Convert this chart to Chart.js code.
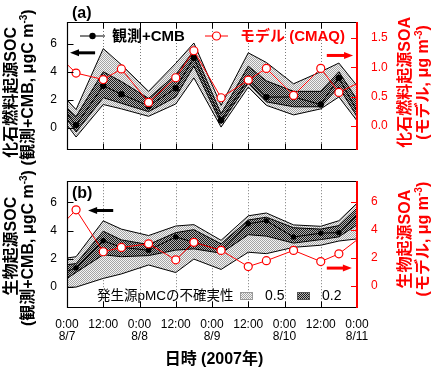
<!DOCTYPE html>
<html>
<head>
<meta charset="utf-8">
<script src="https://cdn.jsdelivr.net/npm/chart.js@4.4.1/dist/chart.umd.min.js"></script>
<style>
body { margin: 0; background: #fff; }
#wrap { position: relative; width: 445px; height: 370px; }
canvas { position: absolute; left: 0; }
#chartA { top: 0; }
#chartB { top: 160px; }
</style>
</head>
<body>
<div id="wrap">
<canvas id="chartA" width="445" height="170"></canvas>
<canvas id="chartB" width="445" height="210"></canvas>
</div>
<script>
// hours from 8/7 0:00; first and last entries are where the lines leave the frame
const hours = [0, 3, 12, 18, 27, 36, 42, 51, 60, 66, 75, 84, 90, 96];

// (a) fossil-fuel SOC, obs + CMB (left axis) and its pMC uncertainty bands
const fossilObs  = [1.0, 0.19, 3.0, 2.4, 1.56, 2.82, 5.0, 0.54, 3.5, 2.19, 2.2, 1.66, 3.56, 1.2];
const fossilHi05 = [2.0, 1.3, 5.65, 4.5, 2.6, 4.6, 6.05, 1.6, 5.35, 4.66, 3.14, 4.0, 4.62, 3.0];
const fossilHi02 = [1.4, 0.8, 4.0, 3.3, 2.1, 3.8, 5.5, 1.0, 4.4, 3.35, 2.6, 2.6, 4.0, 2.0];
const fossilLo02 = [0.6, -0.3, 2.15, 1.75, 1.15, 2.2, 4.4, 0.3, 3.2, 1.85, 1.5, 1.5, 2.9, 0.8];
const fossilLo05 = [0.2, -0.66, 1.66, 1.35, 0.82, 1.7, 3.56, 0.05, 2.9, 1.6, 0.92, 1.35, 2.2, 0.5];
// (a) fossil-fuel SOA, CMAQ model (right axis)
const fossilModel = [1.05, 0.90, 0.79, 0.97, 0.40, 0.82, 1.28, 0.48, 0.78, 0.98, 0.52, 0.98, 0.57, 0.72];

// (b) biogenic SOC, obs + CMB and bands
const bioObs  = [1.09, 1.33, 3.27, 2.8, 2.59, 3.54, 3.16, 2.6, 4.48, 4.69, 3.54, 3.81, 3.85, 5.1];
const bioHi05 = [2.04, 2.13, 4.69, 4.1, 3.64, 4.32, 4.42, 3.3, 5.05, 5.25, 4.4, 4.3, 4.7, 5.95];
const bioHi02 = [1.56, 1.64, 3.95, 3.33, 3.0, 3.85, 4.06, 3.05, 4.75, 4.95, 4.2, 4.1, 4.35, 5.6];
const bioLo02 = [0.57, 1.01, 2.27, 2.13, 2.21, 2.6, 2.69, 2.38, 3.7, 3.6, 3.1, 3.35, 3.55, 4.4];
const bioLo05 = [-0.06, -0.04, 0.58, 0.9, 1.54, 1.0, 1.96, 1.22, 2.45, 2.35, 2.8, 2.95, 3.25, 3.4];
// (b) biogenic SOA, CMAQ model
const bioModel = [4.75, 5.43, 2.42, 2.73, 2.99, 1.84, 3.1, 2.52, 1.36, 1.78, 2.52, 1.72, 2.27, 3.27];

const hourTicks = [0, 12, 24, 36, 48, 60, 72, 84, 96];
const hourTickLabels = [['0:00', '8/7'], '12:00', ['0:00', '8/8'], '12:00', ['0:00', '8/9'], '12:00', ['0:00', '8/10'], '12:00', ['0:00', '8/11']];
const fossilTicksL = [0, 2, 4, 6];
const fossilTicksR = [0, 0.5, 1.0, 1.5];
const bioTicksL = [0, 2, 4, 6];
const bioTicksR = [0, 2, 4, 6];

const FONT = '"Liberation Sans", "Noto Sans CJK JP", sans-serif';
const RED = '#ff0000';

function makePattern(ctx, c1, c2) {
    const p = document.createElement('canvas');
    p.width = 2; p.height = 2;
    const g = p.getContext('2d');
    g.fillStyle = c2; g.fillRect(0, 0, 2, 2);
    g.fillStyle = c1; g.fillRect(0, 0, 1, 1); g.fillRect(1, 1, 1, 1);
    return ctx.createPattern(p, 'repeat');
}

function pts(arr) {
    return hours.map((h, i) => ({ x: h, y: arr[i] }));
}

function innerRadius(r) {
    return hours.map((h, i) => (i === 0 || i === hours.length - 1) ? 0 : r);
}

function buildDatasets(p, light, dark) {
    const edge = { borderColor: '#000', borderWidth: 1, pointRadius: 0, tension: 0 };
    return [
        { ...edge, data: pts(p.hi05), fill: 1, backgroundColor: light, order: 10 },
        { ...edge, data: pts(p.lo05), fill: false, order: 9 },
        { ...edge, data: pts(p.hi02), fill: 3, backgroundColor: dark, order: 8 },
        { ...edge, data: pts(p.lo02), fill: false, order: 7 },
        {
            data: pts(p.obs), borderColor: '#000', borderWidth: 1, fill: false,
            pointRadius: innerRadius(p.dotR), pointBackgroundColor: '#000', pointBorderWidth: 0, order: 5
        },
        {
            data: pts(p.model), yAxisID: 'y1', borderColor: RED, borderWidth: 1, fill: false,
            pointRadius: innerRadius(4), pointBackgroundColor: '#fff', pointBorderColor: RED,
            pointBorderWidth: 1.2, order: 1
        }
    ];
}

// rotated (bottom-to-top) title with a superscript part
function sideTitle(ctx, parts, cx, cy, size, color) {
    const big = `bold ${size}px ${FONT}`;
    const small = `bold ${Math.round(size * 0.62)}px ${FONT}`;
    ctx.save();
    ctx.translate(cx, cy);
    ctx.rotate(-Math.PI / 2);
    ctx.fillStyle = color;
    ctx.textBaseline = 'middle';
    ctx.textAlign = 'left';
    let w = 0;
    parts.forEach(t => { ctx.font = t.sup ? small : big; w += ctx.measureText(t.t).width; });
    let x = -w / 2;
    parts.forEach(t => {
        ctx.font = t.sup ? small : big;
        ctx.fillText(t.t, x, t.sup ? -size * 0.32 : 0);
        x += ctx.measureText(t.t).width;
    });
    ctx.restore();
}

function arrow(ctx, x0, x1, y, color) {
    const dir = Math.sign(x1 - x0);
    ctx.save();
    ctx.strokeStyle = color; ctx.fillStyle = color; ctx.lineWidth = 3;
    ctx.beginPath(); ctx.moveTo(x0, y); ctx.lineTo(x1 - dir * 6, y); ctx.stroke();
    ctx.beginPath();
    ctx.moveTo(x1, y); ctx.lineTo(x1 - dir * 9, y - 3.5); ctx.lineTo(x1 - dir * 9, y + 3.5);
    ctx.closePath(); ctx.fill();
    ctx.restore();
}

function decorPlugin(p) {
    return {
        id: 'decor' + p.name,
        beforeDatasetsDraw(chart) {
            const ctx = chart.ctx, a = chart.chartArea, sx = chart.scales.x;
            ctx.save();
            ctx.strokeStyle = '#7a7a7a'; ctx.lineWidth = 1; ctx.setLineDash([1, 2]);
            hourTicks.slice(1, -1).forEach(h => {
                const px = Math.round(sx.getPixelForValue(h)) + 0.5;
                ctx.beginPath(); ctx.moveTo(px, a.top); ctx.lineTo(px, a.bottom); ctx.stroke();
            });
            ctx.restore();
        },
        afterDatasetsDraw(chart) {
            const ctx = chart.ctx, a = chart.chartArea;
            const sx = chart.scales.x, sy = chart.scales.y, sr = chart.scales.y1;
            const L = Math.round(a.left) + 0.5, R = Math.round(a.right);
            const T = Math.round(a.top) + 0.5, B = Math.round(a.bottom) + 0.5;
            ctx.save();

            // inward tick marks
            ctx.lineWidth = 1; ctx.strokeStyle = '#000';
            sy.ticks.forEach(t => {
                const py = Math.round(sy.getPixelForValue(t.value)) + 0.5;
                ctx.beginPath(); ctx.moveTo(L, py); ctx.lineTo(L + 6, py); ctx.stroke();
            });
            hourTicks.slice(1, -1).forEach(h => {
                const px = Math.round(sx.getPixelForValue(h)) + 0.5;
                ctx.beginPath(); ctx.moveTo(px, B); ctx.lineTo(px, B - 6); ctx.stroke();
                if (p.topTicks) {
                    ctx.beginPath(); ctx.moveTo(px, T); ctx.lineTo(px, T + 6); ctx.stroke();
                }
            });
            ctx.strokeStyle = RED;
            sr.ticks.forEach(t => {
                const py = Math.round(sr.getPixelForValue(t.value)) + 0.5;
                ctx.beginPath(); ctx.moveTo(R, py); ctx.lineTo(R - 6, py); ctx.stroke();
            });

            // frame
            ctx.strokeStyle = '#000'; ctx.lineWidth = 1.2;
            ctx.beginPath();
            ctx.moveTo(R, T); ctx.lineTo(L, T); ctx.lineTo(L, B); ctx.lineTo(R, B);
            ctx.stroke();
            ctx.strokeStyle = RED; ctx.lineWidth = 2;
            ctx.beginPath(); ctx.moveTo(R, T - 0.5); ctx.lineTo(R, B + 0.5); ctx.stroke();

            // direction arrows
            p.arrows.forEach(ar => {
                const scale = ar.axis === 'y1' ? sr : sy;
                arrow(ctx, sx.getPixelForValue(ar.from), sx.getPixelForValue(ar.to),
                    scale.getPixelForValue(ar.y), ar.color);
            });

            // panel tag
            ctx.fillStyle = '#000';
            ctx.font = `bold 16px ${FONT}`;
            ctx.textAlign = 'left'; ctx.textBaseline = 'middle';
            ctx.fillText(p.tag, a.left + 5, a.top + p.tagDy);

            if (p.legendTop) {
                const y = a.top + 14;
                ctx.lineWidth = 1; ctx.strokeStyle = '#000';
                ctx.beginPath(); ctx.moveTo(a.left + 13, y); ctx.lineTo(a.left + 38, y); ctx.stroke();
                ctx.fillStyle = '#000';
                ctx.beginPath(); ctx.arc(a.left + 25.5, y, 3.2, 0, Math.PI * 2); ctx.fill();
                ctx.font = `bold 15px ${FONT}`;
                ctx.fillText('観測+CMB', a.left + 45, y + 0.5);
                ctx.strokeStyle = RED;
                ctx.beginPath(); ctx.moveTo(a.left + 138, y); ctx.lineTo(a.left + 161, y); ctx.stroke();
                ctx.fillStyle = '#fff'; ctx.lineWidth = 1.2;
                ctx.beginPath(); ctx.arc(a.left + 149.5, y, 4, 0, Math.PI * 2); ctx.fill(); ctx.stroke();
                ctx.fillStyle = RED;
                ctx.fillText('モデル (CMAQ)', a.left + 173, y + 0.5);
            }

            if (p.legendBottom) {
                const y = a.bottom - 10.5;
                ctx.fillStyle = '#000';
                ctx.font = `13.5px ${FONT}`;
                ctx.fillText('発生源pMCの不確実性', a.left + 30, y);
                ctx.fillStyle = p.light; ctx.fillRect(a.left + 173, y - 4.5, 13, 8);
                ctx.strokeStyle = '#999'; ctx.lineWidth = 1;
                ctx.strokeRect(a.left + 173.5, y - 4, 12, 7);
                ctx.fillStyle = p.dark; ctx.fillRect(a.left + 230, y - 4.5, 13, 8);
                ctx.strokeStyle = '#555';
                ctx.strokeRect(a.left + 230.5, y - 4, 12, 7);
                ctx.fillStyle = '#000';
                ctx.font = `14px ${FONT}`;
                ctx.fillText('0.5', a.left + 198, y);
                ctx.fillText('0.2', a.left + 255, y);
            }

            // axis titles
            const mid = (a.top + a.bottom) / 2;
            sideTitle(ctx, p.leftTitle1, 12, mid + p.leftDy1, 16, '#000');
            sideTitle(ctx, p.leftTitle2, 29, mid + p.leftDy2, 16, '#000');
            sideTitle(ctx, p.rightTitle1, 406, mid + p.rightDy, 16, RED);
            sideTitle(ctx, p.rightTitle2, 424, mid + p.rightDy, 16, RED);

            if (p.xTitle) {
                ctx.fillStyle = '#000';
                ctx.font = `bold 16px ${FONT}`;
                ctx.textAlign = 'center';
                ctx.fillText(p.xTitle, (a.left + a.right) / 2 + 2, a.bottom + 53);
            }
            ctx.restore();
        }
    };
}

function makeChart(id, p) {
    const ctx = document.getElementById(id).getContext('2d');
    p.light = makePattern(ctx, '#a4a4a4', '#f4f4f4');
    p.dark = makePattern(ctx, '#1a1a1a', '#b4b4b4');
    const tickFont = { family: FONT, size: 12 };
    return new Chart(ctx, {
        type: 'line',
        data: { datasets: buildDatasets(p, p.light, p.dark) },
        options: {
            responsive: false,
            animation: false,
            layout: { padding: { top: p.padTop, left: 0, right: 0, bottom: 0 }, autoPadding: false },
            plugins: { legend: { display: false }, tooltip: { enabled: false } },
            scales: {
                x: {
                    type: 'linear', min: 0, max: 96,
                    afterBuildTicks: s => { s.ticks = hourTicks.map(v => ({ value: v })); },
                    ticks: {
                        display: p.xLabels, autoSkip: false, maxRotation: 0, padding: 11.5,
                        color: '#000', font: { family: FONT, size: 12, lineHeight: 1.03 },
                        callback: (v, i) => hourTickLabels[i]
                    },
                    grid: { display: false, drawTicks: false },
                    border: { display: false },
                    afterFit: s => { s.height = p.xHeight; }
                },
                y: {
                    position: 'left', min: p.yMin, max: p.yMax,
                    afterBuildTicks: s => { s.ticks = p.ticksL.map(v => ({ value: v })); },
                    ticks: { padding: 10, color: '#000', font: tickFont },
                    grid: { display: false, drawTicks: false },
                    border: { display: false },
                    afterFit: s => { s.width = 67; }
                },
                y1: {
                    position: 'right', min: p.rMin, max: p.rMax,
                    afterBuildTicks: s => { s.ticks = p.ticksR.map(v => ({ value: v })); },
                    ticks: { padding: 14, color: RED, font: tickFont, callback: p.rFmt },
                    grid: { display: false, drawTicks: false },
                    border: { display: false },
                    afterFit: s => { s.width = 88; }
                }
            }
        },
        plugins: [decorPlugin(p)]
    });
}

const supM3 = [{ t: 'm' }, { t: '-3', sup: true }, { t: ')' }];

makeChart('chartA', {
    name: 'A', tag: '(a)', tagDy: -8, padTop: 22, xHeight: 5, xLabels: false, topTicks: true,
    hi05: fossilHi05, hi02: fossilHi02, obs: fossilObs, lo02: fossilLo02, lo05: fossilLo05, model: fossilModel,
    dotR: 3.2, yMin: -1.5, yMax: 7.55, rMin: -0.39, rMax: 1.77,
    ticksL: fossilTicksL, ticksR: fossilTicksR, rFmt: v => v.toFixed(1),
    arrows: [
        { from: 9.3, to: 1, y: 5.35, axis: 'y', color: '#000' },
        { from: 86, to: 94.7, y: 1.2, axis: 'y1', color: RED }
    ],
    legendTop: true,
    leftTitle1: [{ t: '化石燃料起源SOC' }], leftDy1: 7,
    leftTitle2: [{ t: '(観測+CMB, μgC ' }, ...supM3], leftDy2: 2,
    rightTitle1: [{ t: '化石燃料起源SOA' }],
    rightTitle2: [{ t: '(モデル, μg ' }, ...supM3], rightDy: -3
});

makeChart('chartB', {
    name: 'B', tag: '(b)', tagDy: 12, padTop: 5, xHeight: 63, xLabels: true, topTicks: false,
    hi05: bioHi05, hi02: bioHi02, obs: bioObs, lo02: bioLo02, lo05: bioLo05, model: bioModel,
    dotR: 2.7, yMin: -1.46, yMax: 7.52, rMin: -1.54, rMax: 7.48,
    ticksL: bioTicksL, ticksR: bioTicksR, rFmt: v => String(v),
    arrows: [
        { from: 15.3, to: 7, y: 5.43, axis: 'y', color: '#000' },
        { from: 86, to: 94.3, y: 1.25, axis: 'y1', color: RED }
    ],
    legendBottom: true, xTitle: '日時 (2007年)',
    leftTitle1: [{ t: '生物起源SOC' }], leftDy1: 2,
    leftTitle2: [{ t: '(観測+CMB, μgC ' }, ...supM3], leftDy2: 4,
    rightTitle1: [{ t: '生物起源SOA' }],
    rightTitle2: [{ t: '(モデル, μg ' }, ...supM3], rightDy: -5
});
</script>
</body>
</html>
